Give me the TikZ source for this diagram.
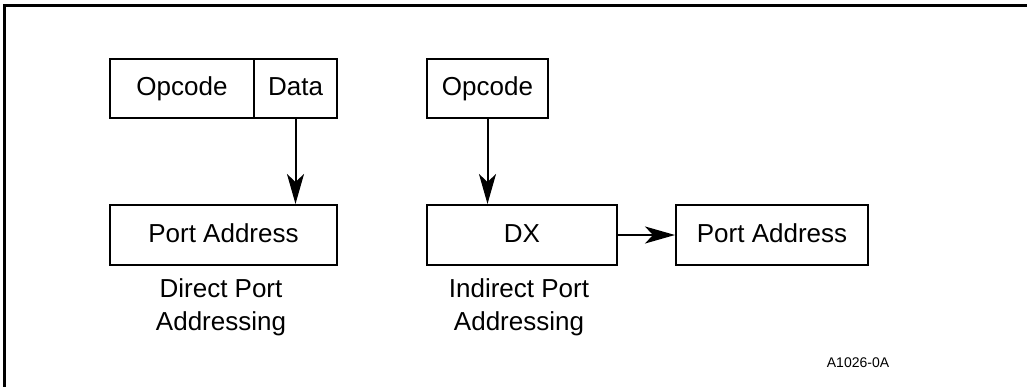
\documentclass[tikz,border=0pt]{standalone}
\usepackage{fontspec}
\setmainfont{Liberation Sans}
\usetikzlibrary{arrows.meta}

\begin{document}
\begin{tikzpicture}[x=1pt, y=1pt,
  every node/.style={inner sep=0pt, font=\fontsize{26}{33}\selectfont},
  fieldbox/.style={draw=black, line width=2pt, minimum height=59pt, text height=19pt, text depth=5pt},
  regbox/.style={draw=black, line width=2pt, minimum height=60pt, text height=19pt, text depth=5pt},
  flow/.style={line width=2pt, -{Stealth[length=30pt, width=17pt, inset=8pt]}},
  caption/.style={align=center}]
\useasboundingbox (0pt, 0pt) rectangle (1027pt, -386pt);
% frame
\draw [line width=3.2pt, color=black] (4.5pt, -390pt) -- (4.5pt, -5.5pt) -- (1030pt, -5.5pt);
% direct port addressing
\node (opA) [fieldbox, minimum width=144pt] at (182.0pt, -88.5pt) {Opcode};
\node (dataA) [fieldbox, minimum width=83pt] at (295.5pt, -88.5pt) {Data};
\node (portA) [regbox, minimum width=227pt] at (223.5pt, -235.0pt) {Port Address};
\node (labA) [caption] at (221.0pt, -307.5pt) {Direct Port\\Addressing};
% indirect port addressing
\node (opB) [fieldbox, minimum width=121pt] at (487.5pt, -88.5pt) {Opcode};
\node (dxB) [regbox, minimum width=190pt] at (522.0pt, -235.0pt) {DX};
\node (portB) [regbox, minimum width=192pt] at (772.0pt, -235.0pt) {Port Address};
\node (labB) [caption] at (519.0pt, -307.5pt) {Indirect Port\\Addressing};
\node (tag) [font=\fontsize{14}{16}\selectfont] at (858.0pt, -363.0pt) {A1026-0A};
\draw [flow] (dataA.south) -- (dataA.south |- portA.north);
\draw [flow] (opB.south) -- (opB.south |- dxB.north);
\draw [flow] (dxB.east) -- (portB.west);
\end{tikzpicture}
\end{document}
